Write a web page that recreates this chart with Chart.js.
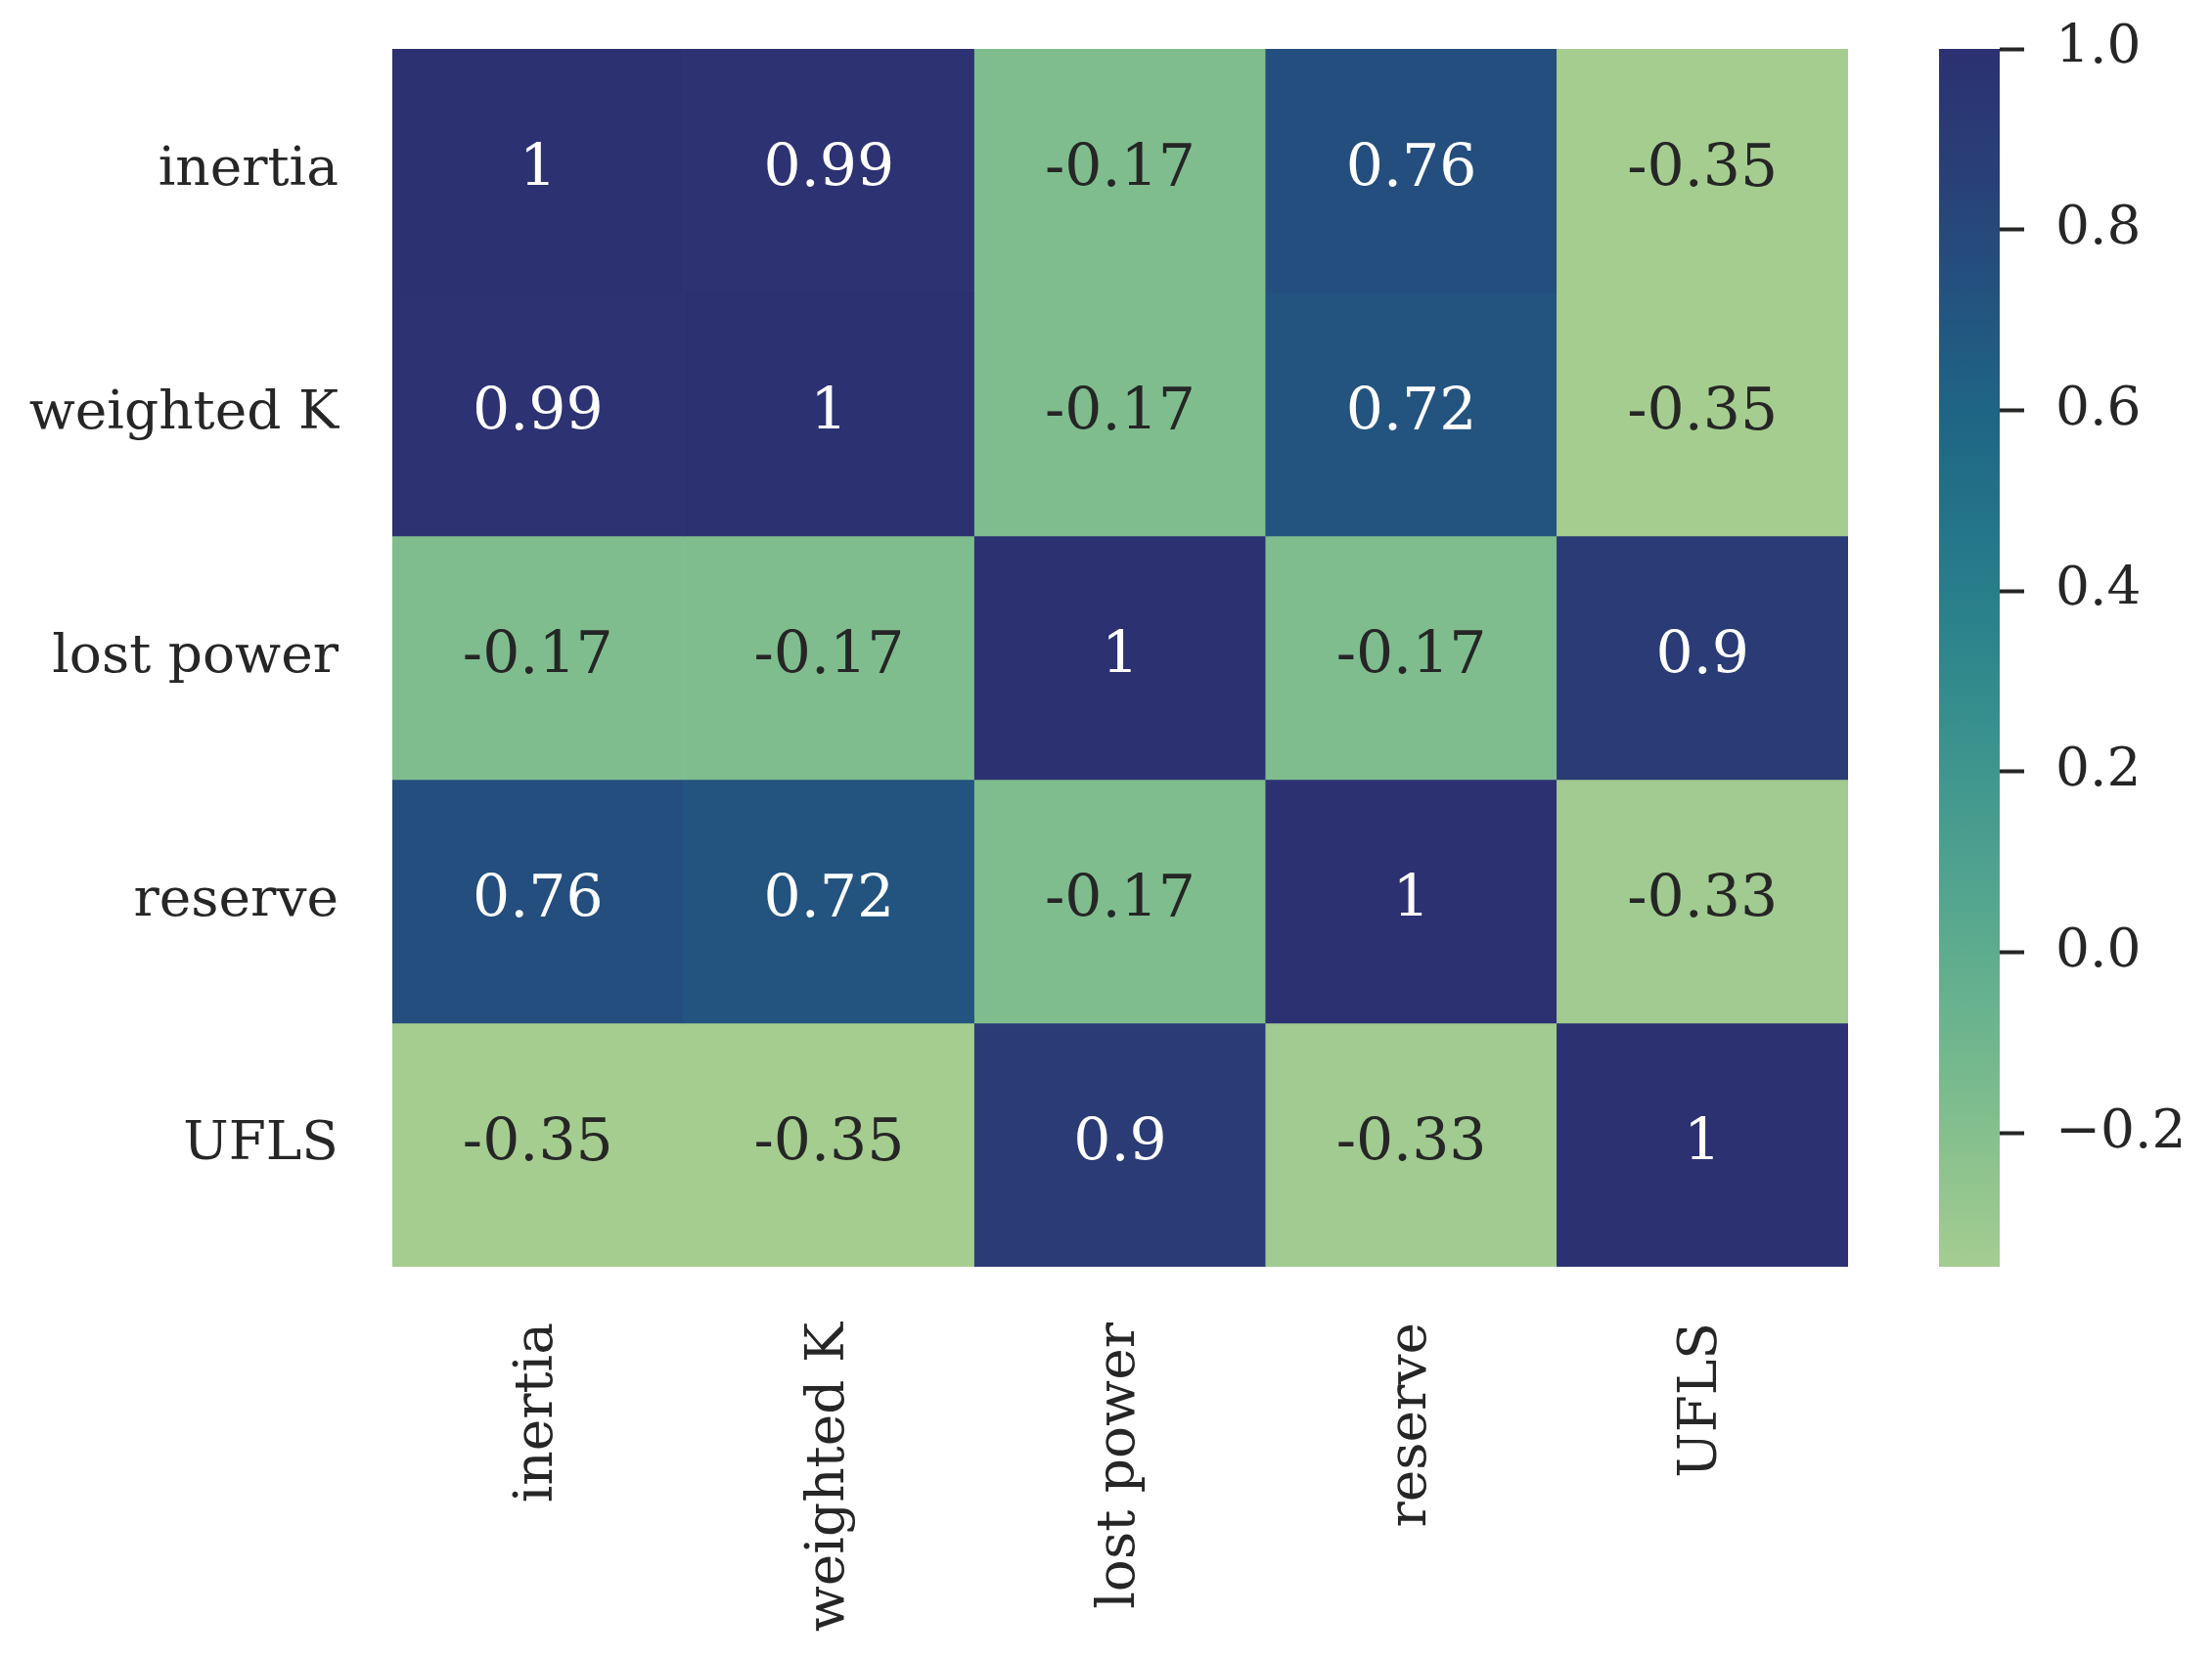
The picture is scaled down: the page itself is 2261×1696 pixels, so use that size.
<!DOCTYPE html>
<html>
<head>
<meta charset="utf-8">
<script src="https://cdn.jsdelivr.net/npm/chart.js@4.4.1/dist/chart.umd.min.js"></script>
<style>
  body { margin: 0; background: #fff; }
  #wrap { position: relative; width: 2261px; height: 1696px; }
  #heat { position: absolute; left: 0; top: 0; }
  #cbar { position: absolute; left: 1900px; top: 0; }
</style>
</head>
<body>
<div id="wrap">
  <canvas id="heat" width="2261" height="1696"></canvas>
  <canvas id="cbar" width="361" height="1696"></canvas>
</div>
<script>
// variables (rows and columns of the correlation matrix)
const rowLabels = ['inertia', 'weighted K', 'lost power', 'reserve', 'UFLS']
const colLabels = ['inertia', 'weighted K', 'lost power', 'reserve', 'UFLS']

// correlation values, one array per row
const inertiaRow = [1, 0.99, -0.17, 0.76, -0.35]
const weightedKRow = [0.99, 1, -0.17, 0.72, -0.35]
const lostPowerRow = [-0.17, -0.17, 1, -0.17, 0.9]
const reserveRow = [0.76, 0.72, -0.17, 1, -0.33]
const uflsRow = [-0.35, -0.35, 0.9, -0.33, 1]
const matrix = [inertiaRow, weightedKRow, lostPowerRow, reserveRow, uflsRow]

// colour scale range and colorbar ticks
const colorMin = -0.348
const colorMax = 1
const cbTicks = [-0.2, 0, 0.2, 0.4, 0.6, 0.8, 1.0]

// seaborn "crest" colormap, sampled
const crestStops = ['#a5cd90', '#88c18e', '#6bb48e', '#55a68f', '#40978e',
                    '#2f878c', '#24768a', '#1f6585', '#23527f', '#293f77', '#2c3172']

const TEXT = '#262626'
const FONT = '"DejaVu Serif", "Liberation Serif", serif'

function hexToRgb(h) {
    return [parseInt(h.slice(1, 3), 16), parseInt(h.slice(3, 5), 16), parseInt(h.slice(5, 7), 16)]
}

function crest(v) {
    let t = (v - colorMin) / (colorMax - colorMin)
    t = Math.max(0, Math.min(1, t))
    const pos = t * (crestStops.length - 1)
    const i = Math.min(Math.floor(pos), crestStops.length - 2)
    const f = pos - i
    const a = hexToRgb(crestStops[i]), b = hexToRgb(crestStops[i + 1])
    const c = a.map((x, k) => Math.round(x + (b[k] - x) * f))
    return `rgb(${c[0]},${c[1]},${c[2]})`
}

function luminance(css) {
    const c = css.match(/\d+/g).map(Number).map(x => {
        x /= 255
        return x <= 0.03928 ? x / 12.92 : Math.pow((x + 0.055) / 1.055, 2.4)
    })
    return 0.2126 * c[0] + 0.7152 * c[1] + 0.0722 * c[2]
}

const fmt = v => Number(v.toPrecision(2)).toString()

// chart.js pads axes for half a label, we want the plot box fixed
const noEdgePad = s => {
    s.paddingTop = 0; s.paddingBottom = 0
    s.paddingLeft = 0; s.paddingRight = 0
}

// write the value in the middle of each cell
const annotate = {
    id: 'annotate',
    afterDatasetsDraw(chart) {
        const ctx = chart.ctx
        ctx.save()
        ctx.font = `60px ${FONT}`
        ctx.textAlign = 'center'
        ctx.textBaseline = 'middle'
        chart.data.datasets.forEach((ds, i) => {
            chart.getDatasetMeta(i).data.forEach((el, j) => {
                const v = matrix[i][j]
                const p = el.getCenterPoint()
                ctx.fillStyle = luminance(crest(v)) > 0.408 ? TEXT : '#ffffff'
                ctx.fillText(fmt(v), p.x, p.y)
            })
        })
        ctx.restore()
    }
}

const heatChart = new Chart(document.getElementById('heat'), {
    type: 'bar',
    data: {
        labels: colLabels,
        datasets: matrix.map((row, i) => ({
            label: rowLabels[i],
            data: row.map(() => [i, i + 1]),
            backgroundColor: row.map(v => crest(v)),
            borderWidth: 0,
            borderSkipped: false,
            barPercentage: 1,
            categoryPercentage: 1,
            grouped: false
        }))
    },
    options: {
        responsive: false,
        devicePixelRatio: 1,
        animation: false,
        layout: { padding: { left: 0, top: 50, right: 372, bottom: 0 } },
        plugins: { legend: { display: false }, tooltip: { enabled: false } },
        scales: {
            x: {
                type: 'category',
                grid: { display: false, drawTicks: false },
                border: { display: false },
                ticks: { color: TEXT, font: { family: FONT, size: 55 }, padding: 57,
                         minRotation: 90, maxRotation: 90, autoSkip: false },
                afterFit: s => { s.height = 401; noEdgePad(s) }
            },
            y: {
                type: 'linear',
                min: 0,
                max: rowLabels.length,
                reverse: true,
                grid: { display: false, drawTicks: false },
                border: { display: false },
                afterBuildTicks: s => { s.ticks = rowLabels.map((_, i) => ({ value: i + 0.5 })) },
                ticks: { color: TEXT, font: { family: FONT, size: 55 }, padding: 55,
                         callback: (v, idx) => rowLabels[idx] },
                afterFit: s => { s.width = 401; noEdgePad(s) }
            }
        }
    },
    plugins: [annotate]
})

// colorbar: one floating bar filled with the colormap gradient
const cbarChart = new Chart(document.getElementById('cbar'), {
    type: 'bar',
    data: {
        labels: [''],
        datasets: [{
            data: [[colorMin, colorMax]],
            backgroundColor: (c) => {
                const area = c.chart.chartArea
                if (!area) return crestStops[0]
                const g = c.chart.ctx.createLinearGradient(0, area.bottom, 0, area.top)
                crestStops.forEach((col, k) => g.addColorStop(k / (crestStops.length - 1), col))
                return g
            },
            borderWidth: 0,
            borderSkipped: false,
            barPercentage: 1,
            categoryPercentage: 1
        }]
    },
    options: {
        responsive: false,
        devicePixelRatio: 1,
        animation: false,
        layout: { padding: { left: 82, top: 50, right: 0, bottom: 401 } },
        plugins: { legend: { display: false }, tooltip: { enabled: false } },
        scales: {
            x: { display: false },
            y: {
                position: 'right',
                min: colorMin,
                max: colorMax,
                grid: { display: true, drawOnChartArea: false, drawTicks: true,
                        tickLength: 25, tickWidth: 4, tickColor: TEXT },
                border: { display: false },
                afterBuildTicks: s => { s.ticks = cbTicks.map(v => ({ value: v })) },
                ticks: { color: TEXT, font: { family: FONT, size: 55 }, padding: 32,
                         callback: v => (v < -1e-9 ? '\u2212' : '') + Math.abs(v).toFixed(1) },
                afterFit: s => { s.width = 217; noEdgePad(s) }
            }
        }
    }
})
</script>
</body>
</html>
